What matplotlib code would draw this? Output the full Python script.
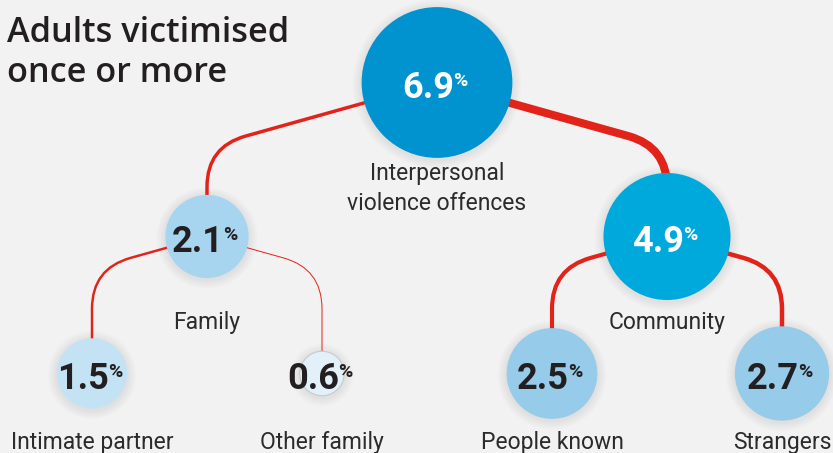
import numpy as np
import matplotlib
matplotlib.use("Agg")
import matplotlib.pyplot as plt
from matplotlib.patches import Circle, PathPatch
from matplotlib.path import Path

# tree data: node values (%) and labels, parent index for each node
values = [6.9, 2.1, 4.9, 1.5, 0.6, 2.5, 2.7]
labels = ["Interpersonal\nviolence offences", "Family", "Community",
          "Intimate partner", "Other family", "People known", "Strangers"]
parents = [None, 0, 0, 1, 1, 2, 2]
title = "Adults victimised\nonce or more"

# styling
BG = "#f2f2f2"
RED = "#e2231a"
INK = "#231f20"
fills = ["#0093d0", "#a7d5ef", "#00a9dc", "#c3e3f5", "#e2f0fa", "#96cbea", "#96cbea"]
white_text = [True, False, True, False, False, False, False]

R_SCALE = 28.7      # radius px per sqrt(%)
LW_SCALE = 1.65     # link width px per %
LEVEL_Y = [82.5, 236.5, 373.5]
LABEL_Y = [210, 329, 449]   # baseline of the last label line
LEAF_X0, LEAF_DX = 92, 230
SLOPE, CORNER = 0.28, 40

plt.rcParams["font.family"] = ["Roboto", "DejaVu Sans"]

fig = plt.figure(figsize=(8.33, 4.53), dpi=100, facecolor=BG)
ax = fig.add_axes([0, 0, 1, 1])
ax.set_xlim(0, 833)
ax.set_ylim(453, 0)
ax.axis("off")

n = len(values)
children = [[j for j in range(n) if parents[j] == i] for i in range(n)]
depth = []
for i in range(n):
    d, p = 0, parents[i]
    while p is not None:
        d += 1
        p = parents[p]
    depth.append(d)

# leaves evenly spaced, parents centred over their children
xs = [0.0] * n
leaf = 0
for i in range(n):
    if not children[i]:
        xs[i] = LEAF_X0 + leaf * LEAF_DX
        leaf += 1
for i in reversed(range(n)):
    if children[i]:
        xs[i] = sum(xs[c] for c in children[i]) / len(children[i])
ys = [LEVEL_Y[d] for d in depth]
radii = [R_SCALE * np.sqrt(v) for v in values]

# links: straight run out of the parent, rounded corner, then straight down
for i, p in enumerate(parents):
    if p is None:
        continue
    x0, y0, x1, y1 = xs[p], ys[p], xs[i], ys[i]
    dx = x1 - x0
    ky = y0 + SLOPE * abs(dx)
    seg = np.hypot(dx, SLOPE * dx)
    verts = [(x0, y0),
             (x1 - CORNER * dx / seg, ky - CORNER * SLOPE * abs(dx) / seg),
             (x1, ky), (x1, ky + CORNER), (x1, y1)]
    codes = [Path.MOVETO, Path.LINETO, Path.CURVE3, Path.CURVE3, Path.LINETO]
    ax.add_patch(PathPatch(Path(verts, codes), fill=False, edgecolor=RED,
                           lw=LW_SCALE * values[i] * 0.72, capstyle="butt", zorder=2))

for i in range(n):
    # soft shadow
    for k in range(1, 7):
        ax.add_patch(Circle((xs[i], ys[i] + 1.5), radii[i] + k * 1.5,
                            facecolor="black", edgecolor="none", alpha=0.01, zorder=1))
    edge = "#c9c9c9" if i == 4 else "none"
    ax.add_patch(Circle((xs[i], ys[i]), radii[i], facecolor=fills[i],
                        edgecolor=edge, lw=0.8, zorder=3))
    col = "white" if white_text[i] else INK
    ax.text(xs[i] + 17, ys[i] + 15.5, f"{values[i]:.1f}", ha="right", va="baseline",
            fontsize=26, fontweight="bold", color=col, zorder=4)
    ax.text(xs[i] + 16, ys[i] + 3.5, "%", ha="left", va="baseline",
            fontsize=14, fontweight="bold", color=col, zorder=4)
    ax.text(xs[i], LABEL_Y[depth[i]], labels[i], ha="center", va="baseline",
            fontsize=16.5, color="#2b2b2b", linespacing=1.4, zorder=4)

ax.text(7, 82, title, ha="left", va="baseline", fontsize=24.7, fontweight="semibold",
        family=["Open Sans", "DejaVu Sans"], color=INK, linespacing=1.22, zorder=4)

fig.savefig("out.png", dpi=100, facecolor=BG)
